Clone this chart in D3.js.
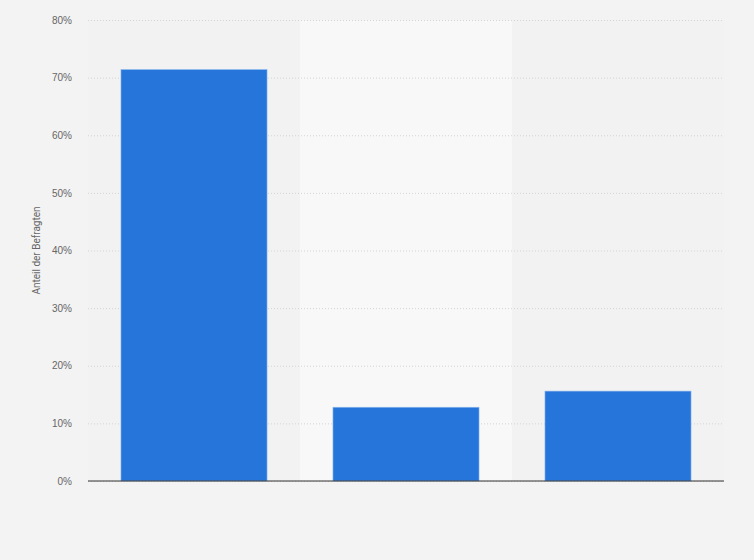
<!DOCTYPE html>
<html>
<head>
<meta charset="utf-8">
<script src="https://cdn.jsdelivr.net/npm/d3@7"></script>
<style>
  body { margin: 0; background: #f3f3f3; }
  svg { display: block; font-family: Roboto, "Open Sans", Arial, sans-serif; }
</style>
</head>
<body>
<div id="chart"></div>
<script>
// data
const categories = ["A", "B", "C"];
const shares = [71.4, 12.8, 15.6];
const yTicks = [0, 10, 20, 30, 40, 50, 60, 70, 80];

// svg set up
let svgWidth = 754;
let svgHeight = 560;
let margin = { top: 20, right: 30, bottom: 79, left: 88 };
let width = svgWidth - margin.left - margin.right;
let height = svgHeight - margin.top - margin.bottom;

let svg = d3.select("#chart")
    .append("svg")
    .attr("width", svgWidth)
    .attr("height", svgHeight);

svg.append("rect")
    .attr("width", svgWidth)
    .attr("height", svgHeight)
    .attr("fill", "#f3f3f3");

let chartGroup = svg.append("g")
    .attr("transform", `translate(${margin.left},${margin.top})`);

// scales
let bandScale = d3.scaleBand().domain(categories).range([0, width]).padding(0);
let xScale = d3.scaleBand().domain(categories).range([0, width])
    .paddingInner(0.311).paddingOuter(0.1555);
let yScale = d3.scaleLinear().domain([0, 80]).range([height, 0]);

// alternating column backgrounds
chartGroup.selectAll("rect.band")
    .data(categories)
    .enter()
    .append("rect")
    .attr("class", "band")
    .attr("x", d => bandScale(d))
    .attr("y", 0)
    .attr("width", bandScale.bandwidth())
    .attr("height", height)
    .attr("fill", (d, i) => i % 2 === 1 ? "#f8f8f8" : "#f2f2f2");

// grid lines + tick labels
let leftAxis = d3.axisLeft(yScale)
    .tickValues(yTicks)
    .tickSize(-width)
    .tickPadding(16)
    .tickFormat(d => d + "%");

let yAxis = chartGroup.append("g").call(leftAxis);
yAxis.select(".domain").remove();
yAxis.selectAll(".tick line")
    .attr("stroke", "#d4d4d4")
    .attr("stroke-dasharray", "1,2");
yAxis.selectAll(".tick text")
    .attr("fill", "#666")
    .attr("font-size", "10px");

// bars
chartGroup.selectAll("rect.bar")
    .data(shares)
    .enter()
    .append("rect")
    .attr("class", "bar")
    .attr("x", (d, i) => xScale(categories[i]))
    .attr("y", d => yScale(d))
    .attr("width", xScale.bandwidth())
    .attr("height", d => height - yScale(d))
    .attr("fill", "#2675db")
    .attr("stroke", "#8fb8ee")
    .attr("stroke-width", 0.6);

// baseline
chartGroup.append("line")
    .attr("x1", 0)
    .attr("x2", width)
    .attr("y1", yScale(0))
    .attr("y2", yScale(0))
    .attr("stroke", "#333")
    .attr("stroke-width", 1.2);

// y axis title
chartGroup.append("text")
    .attr("transform", "rotate(-90)")
    .attr("x", -(height / 2))
    .attr("y", -48)
    .attr("text-anchor", "middle")
    .attr("fill", "#666")
    .attr("font-size", "10px")
    .text("Anteil der Befragten");
</script>
</body>
</html>
